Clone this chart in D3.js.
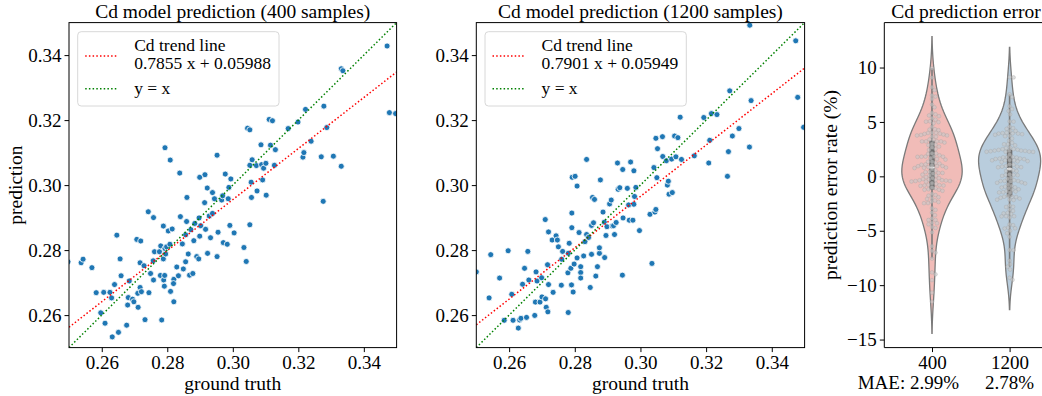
<!DOCTYPE html>
<html>
<head>
<meta charset="utf-8">
<script src="https://cdn.jsdelivr.net/npm/d3@7"></script>
<style>
  body { margin: 0; background: #fff; }
  svg text { font-family: "Liberation Serif", "Times New Roman", serif !important; fill: #000; }
</style>
</head>
<body>
<svg id="chart" width="1042" height="396"></svg>
<script>
// ---- data ----
const truth400 = [0.2497,0.2537,0.2543,0.2570,0.2583,0.2597,0.2606,0.2610,0.2625,0.2630,
  0.2632,0.2639,0.2646,0.2651,0.2656,0.2659,0.2676,0.2679,0.2681,0.2684,
  0.2694,0.2698,0.2707,0.2710,0.2711,0.2717,0.2717,0.2719,0.2721,0.2729,
  0.2732,0.2742,0.2744,0.2749,0.2757,0.2758,0.2758,0.2761,0.2776,0.2780,
  0.2779,0.2783,0.2788,0.2788,0.2789,0.2792,0.2793,0.2791,0.2793,0.2795,
  0.2798,0.2803,0.2808,0.2809,0.2810,0.2815,0.2820,0.2819,0.2820,0.2829,
  0.2834,0.2838,0.2840,0.2846,0.2849,0.2856,0.2856,0.2860,0.2859,0.2864,
  0.2868,0.2872,0.2878,0.2881,0.2884,0.2890,0.2896,0.2897,0.2899,0.2899,
  0.2902,0.2915,0.2914,0.2917,0.2922,0.2923,0.2928,0.2932,0.2938,0.2938,
  0.2944,0.2952,0.2952,0.2955,0.2966,0.2969,0.2971,0.2977,0.2983,0.2986,
  0.2988,0.2991,0.2994,0.3004,0.3034,0.3041,0.3045,0.3052,0.3052,0.3052,
  0.3056,0.3057,0.3059,0.3072,0.3074,0.3086,0.3088,0.3091,0.3094,0.3101,
  0.3102,0.3111,0.3115,0.3121,0.3127,0.3130,0.3169,0.3199,0.3214,0.3217,
  0.3222,0.3239,0.3270,0.3276,0.3278,0.3287,0.3307,0.3331,0.3336,0.3331,
  0.3471,0.3478,0.3497];
const pred400 = [0.2764,0.2761,0.2772,0.2746,0.2669,0.2607,0.2670,0.2575,0.2670,0.2653,
  0.2533,0.2694,0.2846,0.2547,0.2773,0.2721,0.2569,0.2631,0.2654,0.2705,
  0.2649,0.2641,0.2833,0.2667,0.2624,0.2761,0.2685,0.2828,0.2672,0.2752,
  0.2586,0.2918,0.2669,0.2728,0.2767,0.2900,0.2708,0.2795,0.2795,0.2813,
  0.2722,0.2585,0.2773,0.2874,0.2708,0.2722,0.3115,0.2689,0.2805,0.2788,
  0.2810,0.2859,0.2818,0.3077,0.2673,0.2865,0.2710,0.2697,0.2641,0.2748,
  0.2721,0.3037,0.2903,0.2819,0.2742,0.2847,0.2764,0.2962,0.2888,0.2788,
  0.2723,0.2863,0.2728,0.2829,0.2882,0.2780,0.2773,0.2899,0.2843,0.3024,
  0.2875,0.3032,0.2946,0.2864,0.2991,0.2790,0.2905,0.2838,0.2913,0.2977,
  0.2958,0.3092,0.2780,0.2855,0.2954,0.2967,0.2823,0.3034,0.2818,0.2958,
  0.2993,0.2876,0.3019,0.2853,0.2808,0.2765,0.3175,0.3170,0.3061,0.2878,
  0.3009,0.2962,0.3078,0.3060,0.2982,0.3124,0.3063,0.3016,0.3052,0.3067,
  0.2969,0.3202,0.3123,0.3198,0.3061,0.3109,0.3174,0.3194,0.3086,0.3100,
  0.3233,0.3135,0.3087,0.2950,0.3243,0.3177,0.3089,0.3358,0.3352,0.3058,
  0.3428,0.3223,0.3220];

const truth1200 = [0.2500,0.2539,0.2544,0.2571,0.2585,0.2597,0.2608,0.2612,0.2628,0.2632,
  0.2636,0.2641,0.2647,0.2653,0.2657,0.2660,0.2678,0.2680,0.2682,0.2685,
  0.2694,0.2699,0.2700,0.2710,0.2711,0.2713,0.2717,0.2718,0.2720,0.2720,
  0.2731,0.2734,0.2743,0.2747,0.2750,0.2759,0.2760,0.2763,0.2779,0.2780,
  0.2780,0.2783,0.2788,0.2790,0.2791,0.2791,0.2792,0.2795,0.2798,0.2801,
  0.2807,0.2807,0.2813,0.2818,0.2818,0.2818,0.2827,0.2831,0.2836,0.2836,
  0.2842,0.2847,0.2851,0.2851,0.2854,0.2857,0.2860,0.2864,0.2869,0.2875,
  0.2875,0.2878,0.2886,0.2890,0.2891,0.2895,0.2898,0.2906,0.2911,0.2914,
  0.2918,0.2921,0.2926,0.2930,0.2932,0.2937,0.2945,0.2946,0.2947,0.2960,
  0.2964,0.2966,0.2970,0.2977,0.2980,0.2980,0.2982,0.2986,0.2997,0.3029,
  0.3035,0.3041,0.3044,0.3047,0.3047,0.3050,0.3052,0.3067,0.3068,0.3079,
  0.3082,0.3085,0.3087,0.3095,0.3097,0.3104,0.3108,0.3114,0.3121,0.3125,
  0.3164,0.3193,0.3208,0.3211,0.3216,0.3233,0.3265,0.3268,0.3272,0.3280,
  0.3300,0.3332,0.3337,0.3333,0.3473,0.3479,0.3497];
const pred1200 = [0.2733,0.2653,0.2786,0.2714,0.2584,0.2798,0.2664,0.2584,0.2560,0.2585,
  0.2590,0.2695,0.2744,0.2593,0.2796,0.2708,0.2599,0.2640,0.2733,0.2705,
  0.2640,0.2715,0.2656,0.2894,0.2650,0.2624,0.2755,0.2610,0.2694,0.2856,
  0.2831,0.2670,0.2844,0.2831,0.2810,0.2692,0.2772,0.2796,0.2730,0.2608,
  0.2790,0.2821,0.2744,0.2693,0.2914,0.2869,0.3024,0.2671,0.2757,0.3027,
  0.2776,0.2997,0.2854,0.2749,0.2731,0.2714,0.2782,0.2826,0.3079,0.2848,
  0.2839,0.2685,0.2787,0.2876,0.2962,0.2884,0.2956,0.2720,0.2749,0.2790,
  0.2807,0.3016,0.2917,0.2886,0.2777,0.2845,0.2872,0.2942,0.2954,0.2874,
  0.2875,0.2848,0.2885,0.3068,0.2987,0.2992,0.2723,0.3048,0.2899,0.2990,
  0.2939,0.2892,0.3071,0.2892,0.2941,0.3044,0.2965,0.2993,0.2860,0.2910,
  0.2759,0.3054,0.2917,0.2925,0.3144,0.3023,0.3112,0.3149,0.3088,0.3075,
  0.3000,0.3012,0.2972,0.3080,0.2977,0.3151,0.3087,0.3146,0.3209,0.3079,
  0.3090,0.3208,0.3068,0.3138,0.3220,0.3217,0.3027,0.3103,0.3290,0.3151,
  0.3174,0.3117,0.3260,0.3492,0.3444,0.3270,0.3178];

const trendSlope = [0.7855, 0.7901];
const trendIntercept = [0.05988, 0.05949];
const trendLabels = ["0.7855 x + 0.05988", "0.7901 x + 0.05949"];
const scatterTitles = ["Cd model prediction (400 samples)", "Cd model prediction (1200 samples)"];
const scatterTicks = [0.26, 0.28, 0.30, 0.32, 0.34];

const groups = ["400", "1200"];
const maeLabels = ["MAE: 2.99%", "2.78%"];
const errorTicks = [10, 5, 0, -5, -10, -15];
const violinColors = ["#f1bcb8", "#b9cddd"];

const FONT = '"Liberation Serif", "Times New Roman", serif';
const svg = d3.select("#chart");
const plotTop = 22.6, plotBottom = 347.6;

function styleTicks(a) {
  a.select(".domain").remove();
  a.attr("font-family", FONT);
  a.selectAll("text").attr("font-size", 19).style("font-family", FONT);
  a.selectAll("line").attr("stroke", "#000").attr("stroke-width", 1);
}

function scatterPanel(truth, pred, k, left, right, showYLabel) {
  const x = d3.scaleLinear().domain([0.25, 0.35]).range([left, right]);
  const y = d3.scaleLinear().domain([0.25, 0.35]).range([plotBottom, plotTop]);
  const g = svg.append("g");

  const clipId = "clip" + k;
  g.append("clipPath").attr("id", clipId).append("rect")
    .attr("x", left).attr("y", plotTop).attr("width", right - left).attr("height", plotBottom - plotTop);

  const plot = g.append("g").attr("clip-path", `url(#${clipId})`);
  const pts = truth.map((t, i) => ({ t: t, p: pred[i] }));
  plot.selectAll("circle").data(pts).enter().append("circle")
    .attr("cx", d => x(d.t))
    .attr("cy", d => y(d.p))
    .attr("r", 3)
    .attr("fill", "#1f77b4")
    .attr("stroke", "#fff")
    .attr("stroke-width", 0.8);

  const line = d3.line().x(d => x(d[0])).y(d => y(d[1]));
  const xs = [0.25, 0.35];
  plot.append("path")
    .attr("d", line(xs.map(v => [v, trendSlope[k] * v + trendIntercept[k]])))
    .attr("stroke", "red").attr("stroke-width", 1.5).attr("fill", "none")
    .attr("stroke-dasharray", "1.5,2.2");
  plot.append("path")
    .attr("d", line(xs.map(v => [v, v])))
    .attr("stroke", "green").attr("stroke-width", 1.5).attr("fill", "none")
    .attr("stroke-dasharray", "1.5,2.2");

  // axes
  const xAxis = d3.axisBottom(x).tickValues(scatterTicks).tickFormat(d3.format(".2f"))
    .tickSize(4.5).tickSizeOuter(0).tickPadding(3);
  const yAxis = d3.axisLeft(y).tickValues(scatterTicks).tickFormat(d3.format(".2f"))
    .tickSize(4.5).tickSizeOuter(0).tickPadding(3);
  g.append("g").attr("transform", `translate(0,${plotBottom})`).call(xAxis).call(styleTicks);
  g.append("g").attr("transform", `translate(${left},0)`).call(yAxis).call(styleTicks);

  g.append("rect")
    .attr("x", left).attr("y", plotTop).attr("width", right - left).attr("height", plotBottom - plotTop)
    .attr("fill", "none").attr("stroke", "#000").attr("stroke-width", 1);

  g.append("text").attr("x", (left + right) / 2).attr("y", 18)
    .attr("text-anchor", "middle").attr("font-size", 19.5).text(scatterTitles[k]);
  g.append("text").attr("x", (left + right) / 2).attr("y", 389.5)
    .attr("text-anchor", "middle").attr("font-size", 19.5).text("ground truth");
  if (showYLabel) {
    g.append("text").attr("transform", `translate(22,${(plotTop + plotBottom) / 2}) rotate(-90)`)
      .attr("text-anchor", "middle").attr("font-size", 19.5).text("prediction");
  }

  // legend
  const lx = left + 8.7, ly = 31.7;
  const lg = g.append("g");
  lg.append("rect").attr("x", lx).attr("y", ly).attr("width", 201.3).attr("height", 74.3)
    .attr("rx", 3.5).attr("fill", "#fff").attr("fill-opacity", 0.8)
    .attr("stroke", "#d8d8d8").attr("stroke-width", 1);
  lg.append("line").attr("x1", lx + 7.5).attr("x2", lx + 40).attr("y1", ly + 24.3).attr("y2", ly + 24.3)
    .attr("stroke", "red").attr("stroke-width", 1.5).attr("stroke-dasharray", "1.5,2.2");
  lg.append("line").attr("x1", lx + 7.5).attr("x2", lx + 40).attr("y1", ly + 57).attr("y2", ly + 57)
    .attr("stroke", "green").attr("stroke-width", 1.5).attr("stroke-dasharray", "1.5,2.2");
  lg.append("text").attr("x", lx + 56.5).attr("y", ly + 19.3).attr("font-size", 17.5).text("Cd trend line");
  lg.append("text").attr("x", lx + 56.5).attr("y", ly + 37.6).attr("font-size", 17.5).text(trendLabels[k]);
  lg.append("text").attr("x", lx + 56.5).attr("y", ly + 62.4).attr("font-size", 17.5).text("y = x");
}

scatterPanel(truth400, pred400, 0, 69, 396.6, true);
scatterPanel(truth1200, pred1200, 1, 476.3, 804.6, false);

// ---- violin panel: error rate (%) = (truth - pred) / truth ----
const errors = [
  truth400.map((t, i) => (t - pred400[i]) / t * 100),
  truth1200.map((t, i) => (t - pred1200[i]) / t * 100)
];

function kde(values) {
  const n = values.length;
  const bw = d3.deviation(values) * Math.pow(n, -0.2);
  const lo = d3.min(values) - 2 * bw, hi = d3.max(values) + 2 * bw;
  return d3.range(100).map(i => {
    const t = lo + (hi - lo) * i / 99;
    const dens = d3.mean(values, v => Math.exp(-0.5 * ((t - v) / bw) ** 2)) / (bw * Math.sqrt(2 * Math.PI));
    return [t, dens];
  });
}

const vLeft = 884.3;
const xv = d3.scaleLinear().domain([0, 1]).range([932, 1009.6]);
const band = xv(1) - xv(0);
const yv = d3.scaleLinear().domain([-15.74, 14.13]).range([plotBottom, plotTop]);
const vg = svg.append("g");

const dens = errors.map(kde);
const maxD = d3.max(dens, d => d3.max(d, p => p[1]));
const gray = "#7a7a7a";

dens.forEach((d, i) => {
  const w = p => p[1] / maxD * 0.4 * band;
  const area = d3.area().curve(d3.curveLinear)
    .y(p => yv(p[0]))
    .x0(p => xv(i) - w(p))
    .x1(p => xv(i) + w(p));
  vg.append("path").attr("d", area(d)).attr("fill", violinColors[i])
    .attr("stroke", gray).attr("stroke-width", 1.3);
});

// inner box
errors.forEach((vals, i) => {
  const s = vals.slice().sort(d3.ascending);
  const q1 = d3.quantileSorted(s, 0.25), q2 = d3.quantileSorted(s, 0.5), q3 = d3.quantileSorted(s, 0.75);
  const lim = 1.5 * (q3 - q1);
  const h1 = d3.min(s.filter(v => v >= q1 - lim));
  const h2 = d3.max(s.filter(v => v <= q3 + lim));
  const cx = xv(i);
  vg.append("line").attr("x1", cx).attr("x2", cx).attr("y1", yv(h1)).attr("y2", yv(h2))
    .attr("stroke", gray).attr("stroke-width", 1.6);
  vg.append("line").attr("x1", cx).attr("x2", cx).attr("y1", yv(q1)).attr("y2", yv(q3))
    .attr("stroke", "#6e6e6e").attr("stroke-width", 5.5);
  vg.append("line").attr("x1", cx - 2.6).attr("x2", cx + 2.6).attr("y1", yv(q2)).attr("y2", yv(q2))
    .attr("stroke", "#fff").attr("stroke-width", 1.8);
});

// swarm of the individual errors
const r = 1.9, gap = 3.6;
errors.forEach((vals, i) => {
  const placed = [];
  const s = vals.map(v => ({ v: v, py: yv(v) })).sort((a, b) => a.py - b.py);
  s.forEach(p => {
    let best = null;
    for (let step = 0; step < 80 && best === null; step++) {
      const offs = step === 0 ? [0] : [step * 0.5, -step * 0.5];
      for (const o of offs) {
        const ok = placed.every(q => (q.dx - o) ** 2 + (q.py - p.py) ** 2 >= gap * gap);
        if (ok) { best = o; break; }
      }
    }
    p.dx = best === null ? 0 : best;
    placed.push(p);
  });
  vg.append("g").selectAll("circle").data(s).enter().append("circle")
    .attr("cx", p => xv(i) + p.dx).attr("cy", p => p.py).attr("r", r)
    .attr("fill", "#c8c8c8").attr("fill-opacity", 0.6)
    .attr("stroke", "#9a9a9a").attr("stroke-opacity", 0.45).attr("stroke-width", 0.6);
});

// violin axes
const yAxisV = d3.axisLeft(yv).tickValues(errorTicks).tickFormat(d => d3.format("d")(d).replace("-", "\u2212"))
  .tickSize(4.5).tickSizeOuter(0).tickPadding(3);
vg.append("g").attr("transform", `translate(${vLeft},0)`).call(yAxisV).call(styleTicks);
const xAxisV = d3.axisBottom(xv).tickValues([0, 1]).tickFormat(i => groups[i])
  .tickSize(4.5).tickSizeOuter(0).tickPadding(3);
vg.append("g").attr("transform", `translate(0,${plotBottom})`).call(xAxisV).call(styleTicks);
vg.selectAll(".mae").data(maeLabels).enter().append("text")
  .attr("class", "mae")
  .attr("x", (d, i) => i === 0 ? xv(i) + 27 : xv(i))
  .attr("y", 388.5)
  .attr("text-anchor", (d, i) => i === 0 ? "end" : "middle")
  .attr("font-size", 19).text(d => d);

vg.append("path")
  .attr("d", `M${1060},${plotTop}H${vLeft}V${plotBottom}H${1060}`)
  .attr("fill", "none").attr("stroke", "#000").attr("stroke-width", 1);
vg.append("text").attr("x", 966).attr("y", 18).attr("text-anchor", "middle")
  .attr("font-size", 19.5).text("Cd prediction error");
vg.append("text").attr("transform", `translate(836.7,${(plotTop + plotBottom) / 2}) rotate(-90)`)
  .attr("text-anchor", "middle").attr("font-size", 19.5).text("prediction error rate (%)");
</script>
</body>
</html>
